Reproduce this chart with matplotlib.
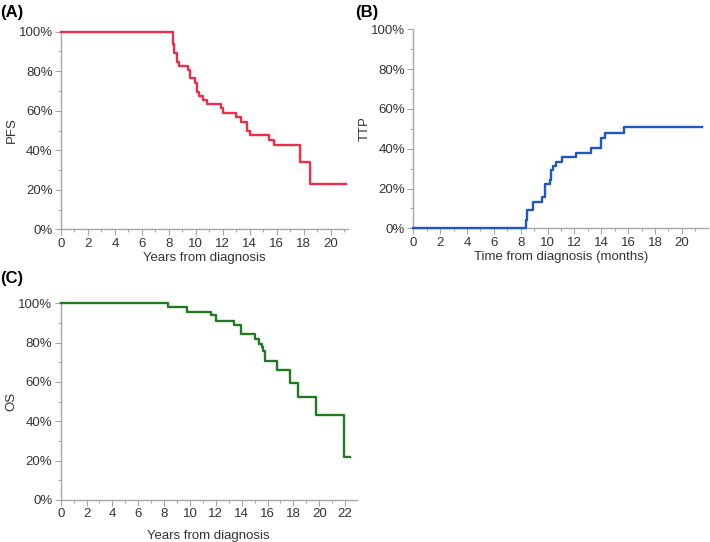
import matplotlib
matplotlib.use("Agg")
import matplotlib.pyplot as plt
from matplotlib.ticker import MultipleLocator, PercentFormatter

plt.rcParams['font.family'] = ['Liberation Sans', 'DejaVu Sans']

# Panel A: PFS (Kaplan-Meier, years)
pfs_time = [0, 8.32, 8.40, 8.57, 8.76, 9.43, 9.60, 9.97, 10.10, 10.25, 10.50, 10.84,
            11.85, 12.02, 12.96, 13.38, 13.80, 14.00, 15.41, 15.78, 17.75, 18.44, 21.16]
pfs_val = [100, 94.0, 89.0, 84.8, 82.8, 80.6, 76.4, 73.8, 69.6, 67.4, 65.4, 63.2,
           61.2, 59.0, 56.6, 54.4, 49.9, 47.7, 45.2, 42.6, 34.2, 22.9, 22.9]

# Panel B: TTP (cumulative incidence)
ttp_time = [0, 8.40, 8.45, 8.70, 8.88, 9.55, 9.80, 10.18, 10.25, 10.43, 10.63, 11.05,
            12.13, 13.20, 14.00, 14.30, 15.72, 21.50]
ttp_val = [0, 4.2, 9.2, 9.2, 13.4, 15.9, 22.5, 24.4, 29.1, 31.2, 33.4, 35.6,
           37.9, 40.3, 45.3, 48.0, 50.7, 50.7]

# Panel C: OS (years)
os_time = [0, 8.32, 9.74, 11.62, 12.00, 13.43, 13.94, 15.03, 15.36, 15.54, 15.67, 15.80,
           16.75, 17.73, 18.38, 19.72, 21.91, 22.37]
os_val = [100, 98.0, 95.7, 93.8, 91.2, 89.0, 84.4, 81.7, 79.2, 77.8, 75.9, 70.7,
          66.1, 59.5, 52.2, 43.3, 21.9, 21.9]

W, H = 710, 542
fig = plt.figure(figsize=(W / 100, H / 100), dpi=100)

def make_ax(left, right, top, bottom):
    return fig.add_axes([left / W, 1 - bottom / H, (right - left) / W, (bottom - top) / H])

AXC = '#a6a6a6'
TXT = '#333333'

def style(ax, xmax, color, times, vals, ylabel, xlabel, ylab_x, xpad):
    ax.step(times, vals, where='post', color=color, lw=1.7, clip_on=False, zorder=3)
    ax.set_xlim(0, xmax)
    ax.set_ylim(0, 100)
    for s in ['top', 'right']:
        ax.spines[s].set_visible(False)
    for s in ['left', 'bottom']:
        ax.spines[s].set_color(AXC)
        ax.spines[s].set_linewidth(1.0)
    ax.xaxis.set_major_locator(MultipleLocator(2))
    ax.xaxis.set_minor_locator(MultipleLocator(1))
    ax.yaxis.set_major_locator(MultipleLocator(20))
    ax.yaxis.set_minor_locator(MultipleLocator(10))
    ax.yaxis.set_major_formatter(PercentFormatter(100, decimals=0))
    ax.tick_params(which='major', length=4, width=0.8, color=AXC, labelsize=9.5,
                   labelcolor=TXT, pad=2)
    ax.tick_params(which='minor', length=2.5, width=0.8, color=AXC)
    ax.set_ylabel(ylabel, fontsize=9.5, color=TXT)
    ax.set_xlabel(xlabel, fontsize=9.5, color=TXT, labelpad=xpad)
    ax.yaxis.set_label_coords(ylab_x, 0.5)

axA = make_ax(61, 348.3, 31.7, 229.3)
style(axA, 21.3, '#ee2d48', pfs_time, pfs_val, 'PFS', 'Years from diagnosis', -0.15, 2)

axB = make_ax(413.3, 708, 29.3, 228.3)
style(axB, 21.95, '#1f57c3', ttp_time, ttp_val, 'TTP', 'Time from diagnosis (months)', -0.145, 2)

axC = make_ax(60.7, 356.7, 303.3, 500)
style(axC, 22.9, '#217a21', os_time, os_val, 'OS', 'Years from diagnosis', -0.145, 7)

fig.text(0 / W, 1 - 12 / H, '(A)', fontsize=12, fontweight='bold', va='center', ha='left')
fig.text(355 / W, 1 - 12 / H, '(B)', fontsize=12, fontweight='bold', va='center', ha='left')
fig.text(0 / W, 1 - 278 / H, '(C)', fontsize=12, fontweight='bold', va='center', ha='left')

fig.savefig('out.png', dpi=100, facecolor='white')
